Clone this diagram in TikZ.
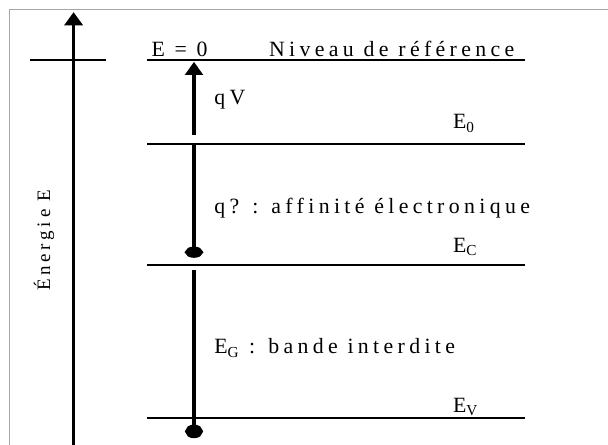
\documentclass[tikz,border=0pt]{standalone}
\usepackage{fontspec}
\setmainfont{Liberation Serif}
\usetikzlibrary{arrows.meta}
\tikzset{
  lvl/.style={line width=1.4pt},
  up/.style={line width=3.4pt,-{Triangle[length=3.3mm,width=4.4mm]}},
  lab/.style={anchor=base west,inner sep=0pt,font=\fontsize{15.5}{18}\selectfont\addfontfeature{LetterSpace=20}},
  every picture/.style={line width=0.5pt},
}
\begin{document}
\begin{tikzpicture}
\useasboundingbox (0,0) rectangle (15.2,11.125);
% frame
\draw[gray!70,line width=0.7pt] (0.24,-0.5) -- (0.24,10.875) -- (15.6,10.875);
% energy axis
\coordinate (ax0) at (1.84,-0.2);
\coordinate (ax1) at (1.84,10.82);
\draw[line width=2pt,-{Triangle[length=3.3mm,width=4.6mm]}] (ax0) -- (ax1);
\node[rotate=90,inner sep=0pt,font=\fontsize{13.5}{16}\selectfont\addfontfeature{LetterSpace=20}] (en) at (1.1,5.12) {Énergie E};
\coordinate (tk0) at (0.75,9.625);
\coordinate (tk1) at (2.65,9.625);
\draw[lvl] (tk0) -- (tk1);
% levels
\coordinate (ref0) at (3.68,9.625);  \coordinate (ref1) at (13.12,9.625);
\coordinate (vac0) at (3.68,7.525);  \coordinate (vac1) at (13.12,7.525);
\coordinate (ec0) at (3.68,4.5);     \coordinate (ec1) at (13.12,4.5);
\coordinate (ev0) at (3.68,0.675);   \coordinate (ev1) at (13.12,0.675);
\draw[lvl] (ref0) -- (ref1);
\draw[lvl] (vac0) -- (vac1);
\draw[lvl] (ec0) -- (ec1);
\draw[lvl] (ev0) -- (ev1);
% arrows
\coordinate (qv0) at (4.85,7.75);  \coordinate (qv1) at (4.85,9.58);
\coordinate (af0) at (4.85,4.68);  \coordinate (af1) at (4.85,7.5);
\coordinate (eg0) at (4.85,0.17);  \coordinate (eg1) at (4.85,4.38);
\draw[up] (qv0) -- (qv1);
\draw[up,{Circle[length=2.8mm,width=4.4mm]}-] (af0) -- (af1);
\draw[up,{Circle[length=3.4mm,width=4.4mm]}-] (eg0) -- (eg1);
% labels
\node[lab] (z) at (3.78,9.72) {E = 0};
\node[lab] (nr) at (6.72,9.72) {Niveau de référence};
\node[lab,anchor=west] (qv) at (5.35,8.625) {qV};
\node[lab] (e0) at (11.32,7.9) {E\textsubscript{0}};
\node[lab,anchor=west] (af) at (5.35,5.925) {q? : affinité électronique};
\node[lab] (ec) at (11.32,4.82) {E\textsubscript{C}};
\node[lab,anchor=west] (eg) at (5.35,2.425) {E\textsubscript{G} : bande interdite};
\node[lab] (ev) at (11.32,0.82) {E\textsubscript{V}};
\end{tikzpicture}
\end{document}
